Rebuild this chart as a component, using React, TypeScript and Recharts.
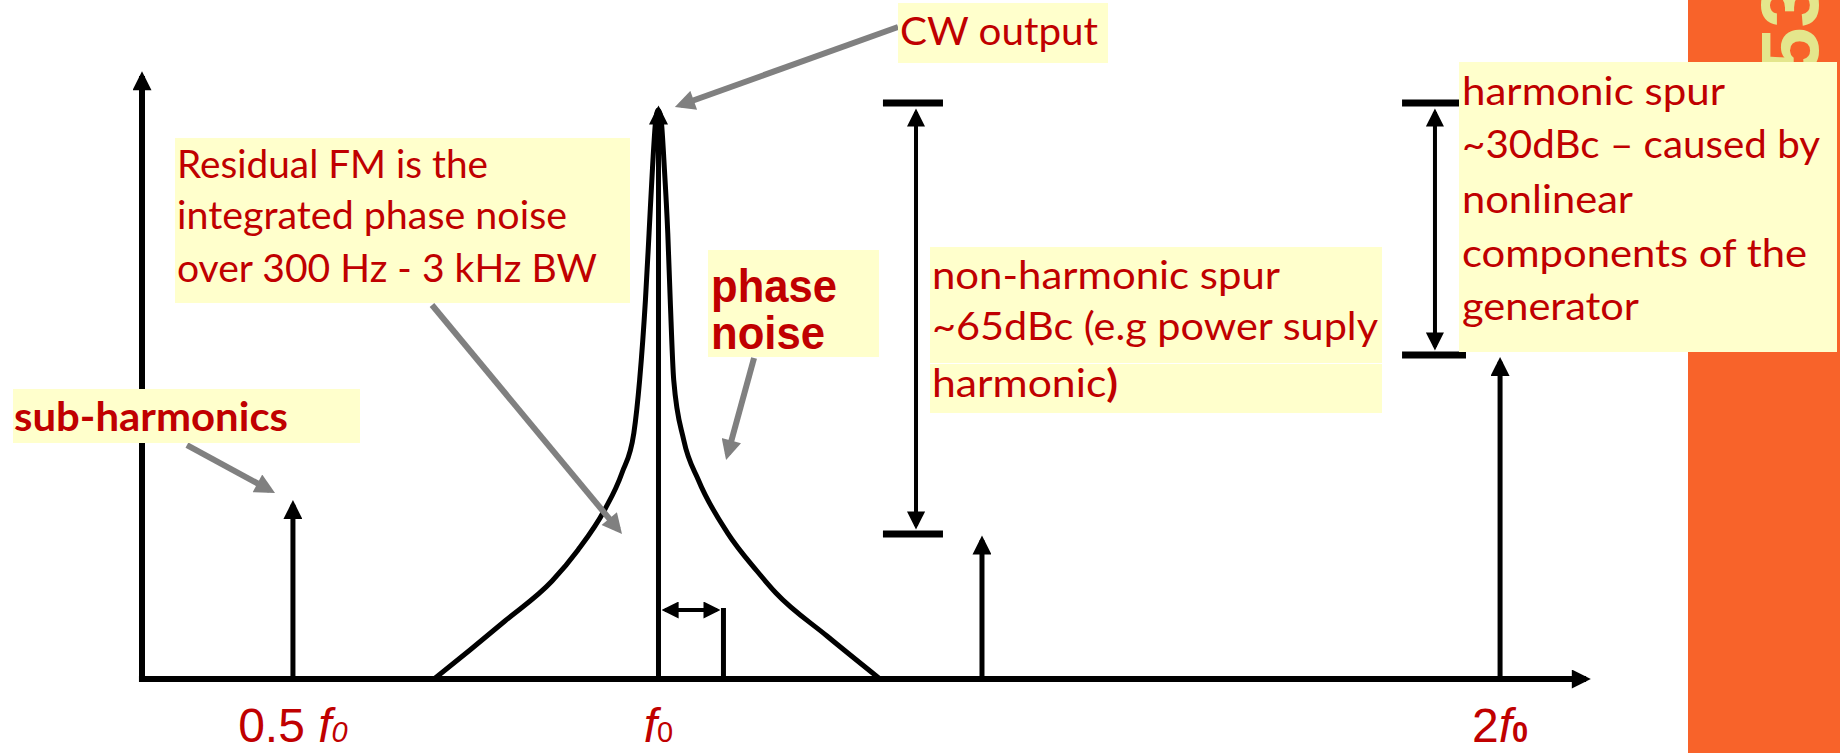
import { ComposedChart, Line, XAxis, YAxis, ReferenceLine } from "recharts";

// schematic spectrum: x = frequency (arbitrary units 0..100), y = level (arbitrary units 0..100)
const SPUR_NAMES = ["sub-harmonic", "carrier", "non-harmonic spur", "harmonic spur"];
const SPUR_FREQ = [10.41, 35.62, 57.93, 93.66];
const SPUR_LEVEL = [28.6, 93.4, 22.8, 52.1];

// phase noise skirt around the carrier
const NOISE_FREQ = [
  20.14, 22.62, 25.03, 28.28, 30.07, 31.9, 33.1, 33.92, 34.32, 34.72, 34.97, 35.21, 35.45, 35.59,
  35.78, 36.02, 36.26, 36.43, 36.67, 37.36, 38.37, 40.39, 42.41, 43.72, 47.24, 50.9,
];
const NOISE_LEVEL = [
  0, 4.76, 9.52, 16.09, 21.18, 27.75, 33.83, 40.39, 49.1, 62.23, 73.23, 84.07, 92.28, 93.43,
  92.28, 84.07, 73.23, 62.23, 49.1, 39.24, 32.68, 23.97, 17.73, 14.12, 7.06, 0,
];

const TICK_VALUES = [10.41, 35.62, 93.66];
const TICK_LABELS = ["0.5 f0", "f0", "2f0"];

// residual FM offset marker (offset freq, level)
const OFFSET_FREQ = 40.1;
const OFFSET_LEVEL = 11.66;
const OFFSET_ARROW = { level: 11.33, from: 36.07, to: 39.66 };

// dimension arrows (dBc spans)
const DIMENSIONS = [
  { x: 53.38, top: 93.1, bottom: 25.12, capTop: 94.58, capBottom: 23.81, capFrom: 51.1, capTo: 55.24, capBottomTo: 55.24 },
  { x: 89.17, top: 93.1, bottom: 54.52, capTop: 94.58, capBottom: 53.2, capFrom: 86.9, capTo: 90.83, capBottomTo: 91.31 },
];

// grey callout pointers
const POINTERS = [
  { from: [52.14, 107.06], to: [37.14, 94.25] },
  { from: [20.0, 61.41], to: [32.84, 24.56] },
  { from: [42.21, 52.71], to: [40.39, 36.91] },
  { from: [3.1, 38.42], to: [8.81, 31.02] },
];

const RED = "#c00000";
const NOTE_BG = "#ffffcc";
const CALIBRI = "Lato, 'Open Sans', sans-serif";
const ARIAL = "'Liberation Sans', Arial, sans-serif";

const noiseData = NOISE_FREQ.map((freq, i) => ({ freq, level: NOISE_LEVEL[i] }));

function FreqTick(props: any) {
  const { x, y, payload } = props;
  const idx = TICK_VALUES.indexOf(payload.value);
  const label = TICK_LABELS[idx] ?? "";
  const m = label.match(/^(.*?)f(\d)$/);
  const prefix = m ? m[1] : label;
  const sub = m ? m[2] : "";
  return (
    <text x={x} y={y + 63} textAnchor="middle" fill={RED} fontFamily={ARIAL} fontSize={48}>
      <tspan>{prefix}</tspan>
      <tspan fontStyle="italic">f</tspan>
      <tspan fontSize={29} fontStyle={idx === 0 ? "italic" : "normal"} fontWeight={idx === 2 ? "bold" : "normal"}>
        {sub}
      </tspan>
    </text>
  );
}

type NoteLine = { text: string; x: number; y: number; w: number; boldTail?: string };

function Note({
  rects,
  lines,
  size,
  bold,
  family,
}: {
  rects: number[][];
  lines: NoteLine[];
  size: number;
  bold?: boolean;
  family: string;
}) {
  return (
    <g>
      {rects.map((r, i) => (
        <rect key={i} x={r[0]} y={r[1]} width={r[2]} height={r[3]} fill={NOTE_BG} />
      ))}
      {lines.map((l, i) => (
        <text
          key={i}
          x={l.x}
          y={l.y}
          fill={RED}
          fontSize={size}
          fontFamily={family}
          fontWeight={bold ? "bold" : "normal"}
          textLength={l.w}
          lengthAdjust="spacingAndGlyphs"
        >
          <tspan>{l.text}</tspan>
          {l.boldTail ? <tspan fontWeight="bold">{l.boldTail}</tspan> : null}
        </text>
      ))}
    </g>
  );
}

export default function App() {
  return (
    <div style={{ position: "absolute", left: 0, top: 0, width: 1840, height: 753, background: "#fff" }}>
      <svg width={0} height={0} style={{ position: "absolute" }}>
        <defs>
          <marker id="headBlack" markerUnits="userSpaceOnUse" viewBox="0 0 20 20" markerWidth={20} markerHeight={19} refX={15} refY={10} orient="auto-start-reverse">
            <path d="M0,0 L20,10 L0,20 z" fill="#000" />
          </marker>
          <marker id="headDim" markerUnits="userSpaceOnUse" viewBox="0 0 20 20" markerWidth={19} markerHeight={18} refX={16} refY={10} orient="auto-start-reverse">
            <path d="M0,0 L20,10 L0,20 z" fill="#000" />
          </marker>
          <marker id="headSmall" markerUnits="userSpaceOnUse" viewBox="0 0 20 20" markerWidth={17} markerHeight={17} refX={16} refY={10} orient="auto-start-reverse">
            <path d="M0,0 L20,10 L0,20 z" fill="#000" />
          </marker>
          <marker id="headGray" markerUnits="userSpaceOnUse" viewBox="0 0 20 20" markerWidth={22} markerHeight={20} refX={14} refY={10} orient="auto-start-reverse">
            <path d="M0,0 L20,10 L0,20 z" fill="#808080" />
          </marker>
        </defs>
      </svg>

      <ComposedChart width={1840} height={753} margin={{ top: 70, right: 248, bottom: 0, left: 142 }}>
        <XAxis
          type="number"
          dataKey="freq"
          domain={[0, 100]}
          allowDataOverflow
          ticks={TICK_VALUES}
          interval={0}
          tick={<FreqTick />}
          tickSize={0}
          tickMargin={0}
          axisLine={false}
          tickLine={false}
          height={74}
        />
        <YAxis type="number" domain={[0, 100]} allowDataOverflow hide />

        {/* axes with arrow heads */}
        <ReferenceLine
          segment={[{ x: -0.21, y: 0 }, { x: 99.59, y: 0 }]}
          stroke="#000"
          strokeWidth={6}
          markerEnd="url(#headBlack)"
          ifOverflow="visible"
        />
        <ReferenceLine
          segment={[{ x: 0, y: -0.49 }, { x: 0, y: 99.01 }]}
          stroke="#000"
          strokeWidth={6}
          markerEnd="url(#headBlack)"
          ifOverflow="visible"
        />

        <Line
          data={noiseData}
          dataKey="level"
          type="monotone"
          stroke="#000"
          strokeWidth={5}
          dot={false}
          activeDot={false}
          isAnimationActive={false}
        />

        {SPUR_FREQ.map((f, i) => (
          <Line
            key={SPUR_NAMES[i]}
            name={SPUR_NAMES[i]}
            data={[
              { freq: f, level: 0 },
              { freq: f, level: SPUR_LEVEL[i] },
            ]}
            dataKey="level"
            type="linear"
            stroke="#000"
            strokeWidth={5}
            dot={false}
            activeDot={false}
            markerEnd="url(#headBlack)"
            isAnimationActive={false}
          />
        ))}

        {/* residual FM offset */}
        <ReferenceLine
          segment={[{ x: OFFSET_FREQ, y: 0 }, { x: OFFSET_FREQ, y: OFFSET_LEVEL }]}
          stroke="#000"
          strokeWidth={5}
          ifOverflow="visible"
        />
        <ReferenceLine
          segment={[{ x: OFFSET_ARROW.from, y: OFFSET_ARROW.level }, { x: OFFSET_ARROW.to, y: OFFSET_ARROW.level }]}
          stroke="#000"
          strokeWidth={4}
          markerStart="url(#headSmall)"
          markerEnd="url(#headSmall)"
          ifOverflow="visible"
        />

        {DIMENSIONS.flatMap((d, i) => [
          <ReferenceLine
            key={`dim${i}`}
            segment={[{ x: d.x, y: d.top }, { x: d.x, y: d.bottom }]}
            stroke="#000"
            strokeWidth={4}
            markerStart="url(#headDim)"
            markerEnd="url(#headDim)"
            ifOverflow="visible"
          />,
          <ReferenceLine
            key={`capT${i}`}
            segment={[{ x: d.capFrom, y: d.capTop }, { x: d.capTo, y: d.capTop }]}
            stroke="#000"
            strokeWidth={7}
            ifOverflow="visible"
          />,
          <ReferenceLine
            key={`capB${i}`}
            segment={[{ x: d.capFrom, y: d.capBottom }, { x: d.capBottomTo, y: d.capBottom }]}
            stroke="#000"
            strokeWidth={7}
            ifOverflow="visible"
          />,
        ])}

        {POINTERS.map((p, i) => (
          <ReferenceLine
            key={`ptr${i}`}
            segment={[{ x: p.from[0], y: p.from[1] }, { x: p.to[0], y: p.to[1] }]}
            stroke="#808080"
            strokeWidth={6}
            markerEnd="url(#headGray)"
            ifOverflow="visible"
          />
        ))}
      </ComposedChart>

      <svg width={1840} height={753} style={{ position: "absolute", left: 0, top: 0, pointerEvents: "none" }}>
        <rect x={1688} y={0} width={152} height={753} fill="#f8632a" />
        <text
          x={1818}
          y={73}
          transform="rotate(-90 1818 73)"
          fontFamily={ARIAL}
          fontWeight="bold"
          fontSize={82}
          fill="#e4e68c"
        >
          53
        </text>

        <Note
          rects={[[898, 3, 210, 60]]}
          size={38}
          family={CALIBRI}
          lines={[{ text: "CW output", x: 900, y: 45, w: 198 }]}
        />
        <Note
          rects={[[175, 138, 455, 165]]}
          size={38}
          family={CALIBRI}
          lines={[
            { text: "Residual FM is the", x: 177, y: 178, w: 311 },
            { text: "integrated phase noise", x: 177, y: 229, w: 390 },
            { text: "over 300 Hz - 3 kHz BW", x: 177, y: 282, w: 420 },
          ]}
        />
        <Note
          rects={[[708, 250, 171, 107]]}
          size={46}
          bold
          family={ARIAL}
          lines={[
            { text: "phase", x: 711, y: 302, w: 126 },
            { text: "noise", x: 711, y: 349, w: 114 },
          ]}
        />
        <Note
          rects={[
            [930, 247, 452, 116],
            [930, 364, 452, 49],
          ]}
          size={38}
          family={CALIBRI}
          lines={[
            { text: "non-harmonic spur", x: 932, y: 289, w: 348 },
            { text: "~65dBc (e.g power suply", x: 932, y: 340, w: 446 },
            { text: "harmonic", boldTail: ")", x: 932, y: 397, w: 186 },
          ]}
        />
        <Note
          rects={[[1459, 62, 378, 290]]}
          size={38}
          family={CALIBRI}
          lines={[
            { text: "harmonic spur", x: 1462, y: 105, w: 263 },
            { text: "~30dBc \u2013 caused by", x: 1462, y: 158, w: 358 },
            { text: "nonlinear", x: 1462, y: 213, w: 171 },
            { text: "components of the", x: 1462, y: 267, w: 345 },
            { text: "generator", x: 1462, y: 320, w: 177 },
          ]}
        />
        <Note
          rects={[[13, 389, 347, 54]]}
          size={40}
          bold
          family={CALIBRI}
          lines={[{ text: "sub-harmonics", x: 14, y: 431, w: 274 }]}
        />
      </svg>
    </div>
  );
}
